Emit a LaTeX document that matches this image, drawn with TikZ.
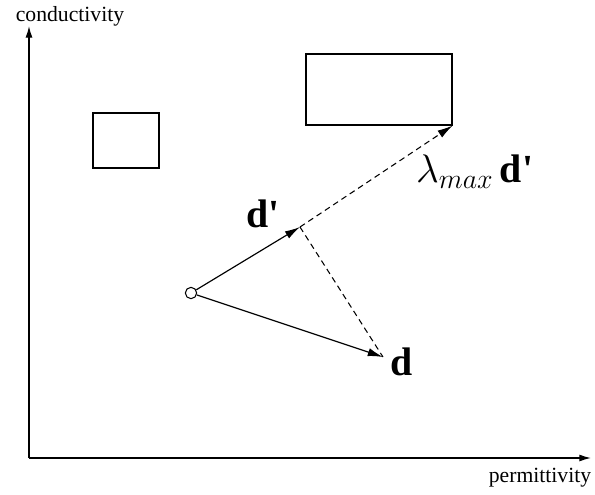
\RequirePackage{fix-cm}
\documentclass[tikz,border=0pt]{standalone}
\usepackage{fontspec}
\setmainfont{Liberation Serif}
\usetikzlibrary{arrows.meta}

\begin{document}
\begin{tikzpicture}[x=0.03cm, y=-0.03cm,
    axis/.style={-{Latex[length=10pt,width=6pt]}, line width=1.1pt},
    vec/.style={-{Latex[length=13pt,width=7pt]}, line width=1pt},
    proj/.style={dashed, dash pattern=on 5pt off 3.5pt, line width=0.9pt},
    region/.style={draw, line width=1pt, inner sep=0pt},
    vlbl/.style={font=\fontsize{34}{34}\selectfont\bfseries},
    axlbl/.style={font=\fontsize{18.5}{18.5}\selectfont}]

    \useasboundingbox (0,0) rectangle (595,494);

    % === Axes ===
    \coordinate (O) at (29,458);
    \coordinate (ytip) at (29,26);
    \coordinate (xtip) at (591,458);
    \draw[axis] (O) -- (ytip);
    \draw[axis] (O) -- (xtip);
    \node[axlbl] (cond) at (70,16) {conductivity};
    \node[axlbl] (perm) at (540,478) {permittivity};

    % === Regions ===
    \node[region, minimum width=1.98cm, minimum height=1.65cm] (small) at (126,140.5) {};
    \node[region, minimum width=4.38cm, minimum height=2.13cm] (big) at (379,89.5) {};

    % === Start point and directions ===
    \node[draw, circle, line width=0.9pt, minimum size=0.34cm, inner sep=0pt] (o) at (191,293) {};
    \coordinate (dp) at (300,227);
    \coordinate (d) at (383,357);

    \draw[vec] (o) -- (dp);
    \draw[vec] (o) -- (d);

    % projection and step along d'
    \draw[proj] (dp) -- (d);
    \draw[proj, -{Latex[length=13pt,width=7pt]}] (dp) -- (big.south east);

    % === Labels ===
    \node[vlbl] (lbldp) at (263,214) {d\textquotesingle};
    \node[vlbl] (lbld) at (402,362) {d};
    \node[vlbl, anchor=west] (lbllam) at (412,172) {$\lambda_{max}$\,d\textquotesingle};

\end{tikzpicture}
\end{document}
